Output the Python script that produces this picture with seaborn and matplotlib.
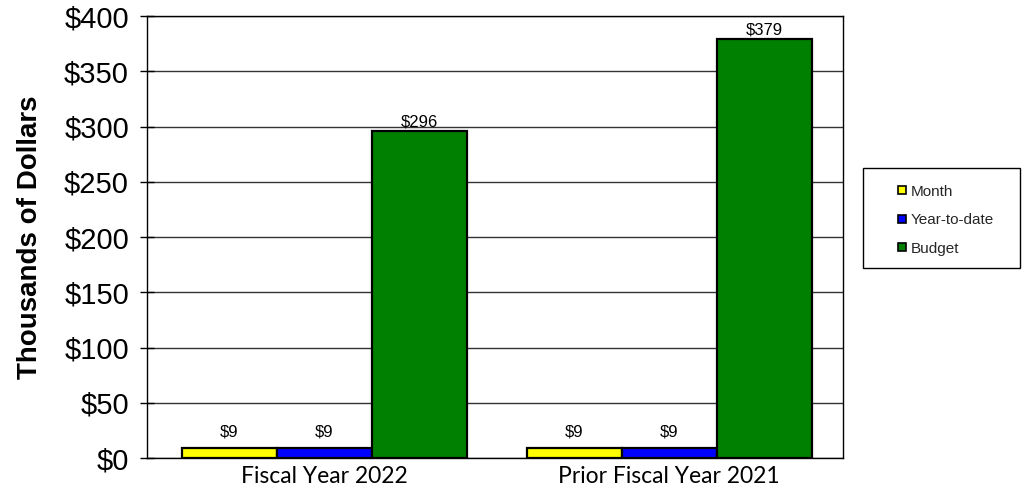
import matplotlib
matplotlib.use("Agg")
import matplotlib.pyplot as plt
from matplotlib.lines import Line2D
from matplotlib.patches import Rectangle
import seaborn as sns
import pandas as pd

# Chart data (thousands of dollars)
categories = ["Fiscal Year 2022", "Prior Fiscal Year 2021"]
series_names = ["Month", "Year-to-date", "Budget"]
month_values = [9, 9]
ytd_values = [9, 9]
budget_values = [296, 379]
y_ticks = [0, 50, 100, 150, 200, 250, 300, 350, 400]
y_tick_labels = ["$0", "$50", "$100", "$150", "$200", "$250", "$300", "$350", "$400"]
colors = ["#FFFF00", "#0000FF", "#008000"]

df = pd.DataFrame({
    "Category": categories * 3,
    "Series": [series_names[0]] * 2 + [series_names[1]] * 2 + [series_names[2]] * 2,
    "Value": month_values + ytd_values + budget_values,
})

sns.set_theme(style="white")
plt.rcParams["font.family"] = ["Liberation Sans", "DejaVu Sans"]

fig = plt.figure(figsize=(10.36, 4.86), dpi=100)
ax = fig.add_axes([0.1419, 0.0576, 0.8137 - 0.1419, 0.967 - 0.0576])

sns.barplot(data=df, x="Category", y="Value", hue="Series", order=categories,
            hue_order=series_names, palette=colors, width=0.826, saturation=1,
            edgecolor="black", linewidth=1.6, errorbar=None, legend=False, ax=ax)

ax.set_ylim(0, 400)
ax.set_xlim(-0.513, 1.504)
ax.set_yticks(y_ticks)
ax.set_yticklabels(y_tick_labels, fontsize=21, color="black")
ax.yaxis.grid(True, color="#333333", linewidth=1.0)
ax.set_axisbelow(True)
ax.tick_params(axis="y", which="both", left=True, direction="inout", length=10,
               width=1, color="black", pad=8)
ax.tick_params(axis="x", bottom=False, pad=0)
for lbl in ax.get_xticklabels():
    lbl.set_fontfamily(["Lato", "DejaVu Sans"])
    lbl.set_fontsize(16.5)
    lbl.set_color("black")

for side in ["left", "bottom", "right", "top"]:
    ax.spines[side].set_visible(True)
    ax.spines[side].set_color("black")
    ax.spines[side].set_linewidth(1.0)

ax.set_xlabel("")
ax.set_ylabel("Thousands of Dollars", fontsize=20, fontweight="bold",
              color="black", labelpad=15)

label_pads = [6, 6, 1]
for container, pad in zip(ax.containers, label_pads):
    ax.bar_label(container, labels=[f"${v:.0f}" for v in container.datavalues],
                 padding=pad, fontsize=12, color="black")

# Legend with a square-cornered frame on the right
handles = [Line2D([0], [0], marker="s", linestyle="none", markersize=6,
                  markerfacecolor=c, markeredgecolor="black", markeredgewidth=1.2)
           for c in colors]
fig.add_artist(Rectangle((863 / 1036, 1 - 268 / 486), 157 / 1036, 100 / 486,
                         transform=fig.transFigure, fill=False,
                         edgecolor="black", linewidth=1.0))
fig.legend(handles, series_names, loc="upper left",
           bbox_to_anchor=(888 / 1036, 1 - 177 / 486), frameon=False,
           prop={"family": "Liberation Sans", "size": 11},
           handlelength=0.8, handletextpad=0.2,
           labelspacing=0.95, borderpad=0)

fig.savefig("out.png", dpi=100)
